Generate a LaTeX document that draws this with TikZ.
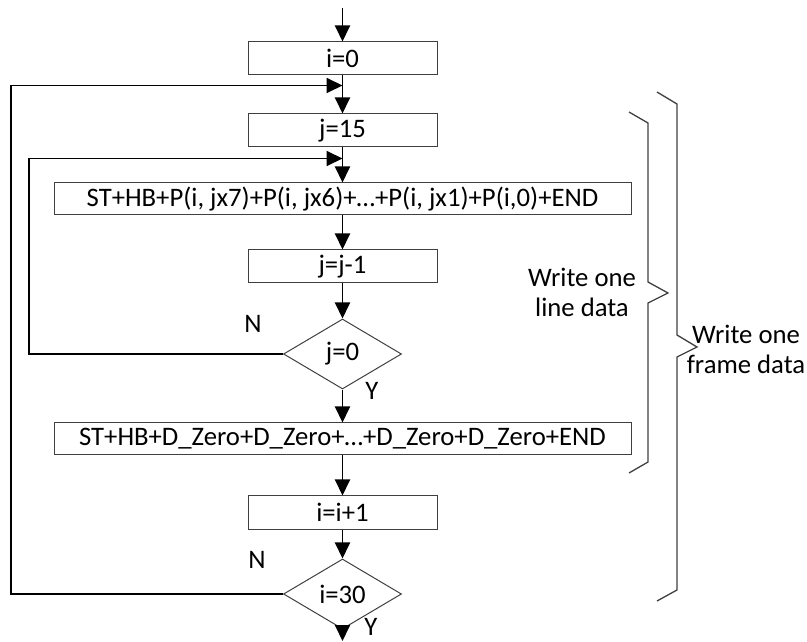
\documentclass[tikz,border=0pt]{standalone}
\usepackage{fontspec}
\setmainfont{Carlito}
\usepackage{tikz}
\usetikzlibrary{arrows.meta,positioning,shapes.geometric}
\definecolor{boxline}{RGB}{64,64,64}
\tikzset{
  box/.style      = {rectangle, draw=boxline, line width=1pt, minimum width=189pt,
                     minimum height=33pt, inner sep=0pt, font=\fontsize{26.7}{30}\selectfont},
  bigbox/.style   = {box, minimum width=577pt, minimum height=32pt},
  decision/.style = {diamond, draw=boxline, line width=1pt, aspect=1.69,
                     minimum width=118pt, minimum height=70pt, inner sep=0pt,
                     font=\fontsize{26.7}{30}\selectfont},
  arr/.style      = {-{Triangle[length=16pt,width=15pt]}, line width=1.9pt},
  lbl/.style      = {inner sep=0pt, align=center, font=\fontsize{26.7}{30}\selectfont},
  brace/.style    = {draw=boxline, line width=1.3pt},
}

\begin{document}
\begin{tikzpicture}[x=1pt,y=1pt]
\useasboundingbox (0,0) rectangle (807,641);

% main column
\node[box] (i0) at (342.5,582.5) {i=0};
\node[box, below=38pt of i0] (j15) {j=15};
\node[bigbox, below=35pt of j15] (line) {ST+HB+P(i, jx7)+P(i, jx6)+…+P(i, jx1)+P(i,0)+END};
\node[box, below=34pt of line] (jdec) {j=j-1};
\node[decision, below=35pt of jdec] (jz) {j=0};
\node[bigbox, below=33pt of jz] (zero) {ST+HB+D\_Zero+D\_Zero+…+D\_Zero+D\_Zero+END};
\node[box, below=40pt of zero] (iinc) {i=i+1};
\node[decision, below=29pt of iinc] (iend) {i=30};

% entry, exit and loop joins
\coordinate (start) at (342.5,633);
\coordinate (stop) at (342.5,0);
\coordinate[below=10pt of i0] (outerin);
\coordinate[below=11pt of j15] (innerin);

\draw[arr] (start) -- (i0);
\draw[arr] (i0) -- (j15);
\draw[arr] (j15) -- (line);
\draw[arr] (line) -- (jdec);
\draw[arr] (jdec) -- (jz);
\draw[arr] (jz) -- (zero);
\draw[arr] (zero) -- (iinc);
\draw[arr] (iinc) -- (iend);
\draw[arr] (iend) -- (stop);

% j loop
\draw[arr] (jz.west) -- ++(-254,0) |- (innerin);
% i loop
\draw[arr] (iend.west) -- ++(-272,0) |- (outerin);

% branch labels
\node[lbl] (n1) at (253,317) {N};
\node[lbl] (y1) at (372,250) {Y};
\node[lbl] (n2) at (257,81) {N};
\node[lbl] (y2) at (371,14) {Y};

% braces
\draw[brace] (629,529) -- (648,518) -- (648,359) -- (668,348) -- (648,338) -- (648,179) -- (629,168);
\draw[brace] (657,549) -- (677,537) -- (677,306) -- (697,294) -- (677,284) -- (677,51) -- (657,40);
\node[lbl] (linetxt) at (582,349) {Write one\\line data};
\node[lbl] (frametxt) at (746,292) {Write one\\frame data};

\end{tikzpicture}
\end{document}
